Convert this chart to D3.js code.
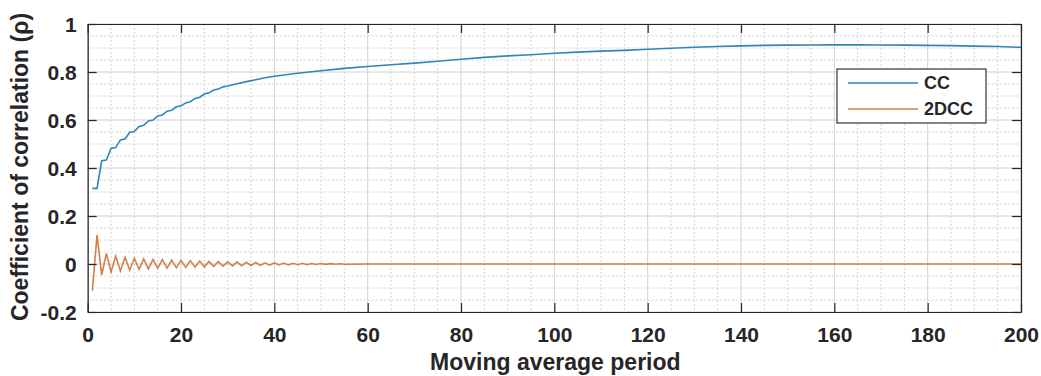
<!DOCTYPE html>
<html>
<head>
<meta charset="utf-8">
<script src="https://cdn.jsdelivr.net/npm/d3@7/dist/d3.min.js"></script>
<style>
  html, body { margin: 0; padding: 0; background: #fff; }
  svg { display: block; font-family: "Liberation Sans", Arial, sans-serif; font-weight: bold; }
</style>
</head>
<body>
<svg id="chart" width="1041" height="376"></svg>
<script>
// Moving average period for the CC series
const ccPeriod = [1,2,3,4,5,6,7,8,9,10,11,12,13,14,15,16,17,18,19,20,
  21,22,23,24,25,26,27,28,29,30,32,34,36,38,40,45,50,55,60,65,70,75,80,85,90,95,
  100,105,110,115,120,125,130,135,140,145,150,155,160,165,170,175,180,185,190,195,200];
// Coefficient of correlation (CC)
const ccValue = [0.315,0.315,0.430,0.433,0.482,0.485,0.517,0.521,0.549,0.552,
  0.573,0.578,0.596,0.600,0.617,0.621,0.637,0.641,0.655,0.659,
  0.671,0.676,0.690,0.695,0.708,0.713,0.725,0.729,0.738,0.742,
  0.751,0.760,0.768,0.776,0.782,0.795,0.805,0.815,0.823,0.830,0.837,0.845,0.853,0.861,0.867,0.872,
  0.878,0.883,0.887,0.890,0.895,0.899,0.903,0.906,0.909,0.911,0.912,0.9125,0.913,0.913,0.9125,0.912,0.911,0.910,0.908,0.906,0.903];

// Moving average period for the 2DCC series
const dccPeriod = [1,2,3,4,5,6,7,8,9,10,11,12,13,14,15,16,17,18,19,20,
  21,22,23,24,25,26,27,28,29,30,31,32,33,34,35,36,37,38,39,40,
  41,42,43,44,45,46,47,48,49,50,51,52,53,54,55,60,100,150,200];
// Coefficient of correlation (2DCC)
const dccValue = [-0.111,0.121,-0.046,0.044,-0.033,0.033,-0.029,0.028,-0.025,0.024,
  -0.022,0.021,-0.020,0.019,-0.018,0.018,-0.017,0.016,-0.016,0.015,
  -0.014,0.014,-0.013,0.012,-0.012,0.011,-0.010,0.010,-0.009,0.009,
  -0.008,0.008,-0.007,0.007,-0.006,0.006,-0.006,0.005,-0.005,0.005,
  -0.004,0.004,-0.004,0.003,-0.003,0.003,-0.003,0.002,-0.002,0.002,
  -0.0015,0.0015,-0.001,0.001,-0.001,0,0,0,0];

const xTicks = [0,20,40,60,80,100,120,140,160,180,200];
const yTicks = [-0.2,0,0.2,0.4,0.6,0.8,1];
const yTickLabels = ["-0.2","0","0.2","0.4","0.6","0.8","1"];
const seriesNames = ["CC","2DCC"];
const seriesColors = ["#2f87b5","#d0804c"];

const svg = d3.select("#chart");
const margin = {left: 87.7, top: 24, right: 1041 - 1021, bottom: 376 - 312};
const W = 1041 - margin.left - margin.right;
const H = 376 - margin.top - margin.bottom;

const x = d3.scaleLinear().domain([0, 200]).range([0, W]);
const y = d3.scaleLinear().domain([-0.2, 1]).range([H, 0]);

const g = svg.append("g").attr("transform", `translate(${margin.left},${margin.top})`);

// minor grid (dotted)
const minorX = d3.range(0, 201, 5).filter(v => v % 20 !== 0);
const minorY = d3.range(-0.2, 1.0001, 0.05).filter(v => Math.abs(Math.round(v * 5) - v * 5) > 1e-6);
g.append("g").selectAll("line").data(minorX).join("line")
  .attr("x1", d => x(d)).attr("x2", d => x(d)).attr("y1", 0).attr("y2", H)
  .attr("stroke", "#d4d4d4").attr("stroke-width", 1).attr("stroke-dasharray", "2,2");
g.append("g").selectAll("line").data(minorY).join("line")
  .attr("y1", d => y(d)).attr("y2", d => y(d)).attr("x1", 0).attr("x2", W)
  .attr("stroke", "#d4d4d4").attr("stroke-width", 1).attr("stroke-dasharray", "2,2");

// major grid (solid)
g.append("g").selectAll("line").data(xTicks).join("line")
  .attr("x1", d => x(d)).attr("x2", d => x(d)).attr("y1", 0).attr("y2", H)
  .attr("stroke", "#d2d2d2").attr("stroke-width", 1);
g.append("g").selectAll("line").data(yTicks).join("line")
  .attr("y1", d => y(d)).attr("y2", d => y(d)).attr("x1", 0).attr("x2", W)
  .attr("stroke", "#d2d2d2").attr("stroke-width", 1);

// series
const line = d3.line().x(d => x(d[0])).y(d => y(d[1]));
g.append("path").datum(ccPeriod.map((p, i) => [p, ccValue[i]]))
  .attr("d", line).attr("fill", "none").attr("stroke", seriesColors[0]).attr("stroke-width", 1.6);
g.append("path").datum(dccPeriod.map((p, i) => [p, dccValue[i]]))
  .attr("d", line).attr("fill", "none").attr("stroke", seriesColors[1]).attr("stroke-width", 1.6);

// axes with inward ticks on all four sides
const tickLen = 9;
const axisColor = "#262626";
const fmtY = d => yTickLabels[yTicks.findIndex(t => Math.abs(t - d) < 1e-9)];

const gx = g.append("g").attr("transform", `translate(0,${H})`)
  .call(d3.axisBottom(x).tickValues(xTicks).tickSizeInner(-tickLen).tickSizeOuter(0).tickFormat(d3.format("d")));
const gy = g.append("g")
  .call(d3.axisLeft(y).tickValues(yTicks).tickSizeInner(-tickLen).tickSizeOuter(0).tickPadding(11).tickFormat(fmtY));
const gt = g.append("g")
  .call(d3.axisTop(x).tickValues(xTicks).tickSizeInner(-tickLen).tickSizeOuter(0).tickFormat(""));
const gr = g.append("g").attr("transform", `translate(${W},0)`)
  .call(d3.axisRight(y).tickValues(yTicks).tickSizeInner(-tickLen).tickSizeOuter(0).tickFormat(""));

[gx, gy, gt, gr].forEach(a => {
  a.select(".domain").attr("stroke", axisColor).attr("stroke-width", 1.2);
  a.selectAll(".tick line").attr("stroke", axisColor).attr("stroke-width", 1.2);
  a.selectAll(".tick text").attr("fill", "#262626").attr("font-size", 21).attr("font-weight", "bold")
    .attr("font-family", "'Liberation Sans', Arial, sans-serif");
});
gx.selectAll(".tick text").attr("dy", "0.71em").attr("y", 15);
gy.selectAll(".tick text").attr("dy", "0.35em");

// axis titles
svg.append("text")
  .attr("x", margin.left + W / 2 + 1).attr("y", 370)
  .attr("text-anchor", "middle").attr("font-size", 23).attr("fill", "#262626")
  .text("Moving average period");
svg.append("text")
  .attr("transform", `translate(28,${margin.top + H / 2 - 1}) rotate(-90)`)
  .attr("text-anchor", "middle").attr("font-size", 23).attr("fill", "#262626")
  .text("Coefficient of correlation (\u03C1)");

// legend
const leg = svg.append("g").attr("transform", "translate(837,69)");
leg.append("rect").attr("width", 149).attr("height", 54)
  .attr("fill", "#fff").attr("stroke", "#333").attr("stroke-width", 1.2);
seriesNames.forEach((name, i) => {
  const ly = 14 + i * 26;
  leg.append("line").attr("x1", 11).attr("x2", 81).attr("y1", ly).attr("y2", ly)
    .attr("stroke", seriesColors[i]).attr("stroke-width", 1.6);
  leg.append("text").attr("x", 87).attr("y", ly).attr("dy", "0.35em")
    .attr("font-size", 18).attr("fill", "#262626").text(name);
});
</script>
</body>
</html>
